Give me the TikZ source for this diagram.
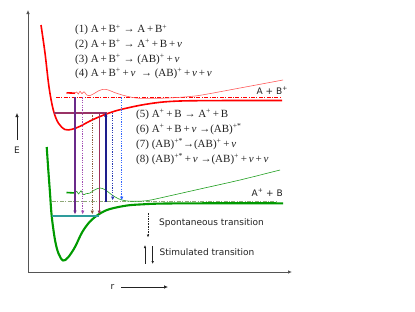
\documentclass[tikz,border=0pt]{standalone}
\usepackage{fontspec}
\setmainfont{Liberation Serif}
\setsansfont{DejaVu Sans}
\usepackage{tikz}
\usetikzlibrary{arrows.meta}
\definecolor{AxisGray}{HTML}{555555}
\definecolor{Ink}{HTML}{222222}
\definecolor{PotRed}{HTML}{FF0000}
\definecolor{WaveRed}{HTML}{FF5A5A}
\definecolor{PotGreen}{HTML}{009A00}
\definecolor{WaveGreen}{HTML}{1E9E1E}
\definecolor{AsymGreen}{HTML}{8FA878}
\definecolor{LevelMaroon}{HTML}{993366}
\definecolor{LevelTeal}{HTML}{2E9C9C}
\definecolor{TrViolet}{HTML}{6A2A8A}
\definecolor{TrOrchid}{HTML}{A24DB4}
\definecolor{TrBrown}{HTML}{8B5A3C}
\definecolor{TrMaroon}{HTML}{A0305A}
\definecolor{TrNavy}{HTML}{1E1E8C}
\definecolor{TrBlue}{HTML}{2A3AB4}
\definecolor{TrSky}{HTML}{3366FF}
\tikzset{
  >={Latex[length=4pt,width=3.6pt]},
  axis/.style={->,line width=.9pt,draw=AxisGray},
  pot/.style={line width=1.6pt},
  wave/.style={line width=.6pt},
  stub/.style={line width=1.6pt},
  asym/.style={line width=.8pt,dash pattern=on 4pt off 1.4pt on 1pt off 1.4pt},
  level/.style={line width=1.6pt},
  solidtr/.style={->,line width=1.6pt},
  dottr/.style={->,line width=1.5pt,dash pattern=on 1.2pt off 1.2pt},
  legarrow/.style={->,line width=.6pt,draw=Ink,>={Latex[length=3pt,width=2.6pt]}},
  eq/.style={anchor=west,inner sep=0pt,text=Ink,font=\fontsize{11}{13}\selectfont},
  lab/.style={inner sep=0pt,text=Ink,font=\sffamily\fontsize{9}{11}\selectfont}
}
\begin{document}
\begin{tikzpicture}[x=1pt,y=-1pt]
  \useasboundingbox (0,0) rectangle (415,311);
  % axes
  \coordinate (o) at (28,272); \coordinate (etop) at (28,10); \coordinate (rend) at (292,272);
  \draw[axis] (o)--(etop); \draw[axis] (o)--(rend);
  \node[lab] (elab) at (17,150) {E}; \coordinate (ea) at (17,140); \coordinate (eb) at (17,113);
  \draw[axis,line width=.7pt,draw=Ink] (ea)--(eb);
  \node[lab] (rlab) at (112.5,286.5) {r}; \coordinate (ra) at (121,287); \coordinate (rb) at (168,287);
  \draw[axis,line width=.7pt,draw=Ink] (ra)--(rb);
  % potential curves
  \draw[pot,draw=PotRed] plot[smooth,tension=.55] coordinates {(41,25) (45,53) (49,87) (53.3,110) (58.3,123) (65,129.5) (72,129.3) (80,126.3) (90,121) (100,116.5) (110,112.7) (120,109.7) (140,105.3) (160,102.3) (180,101) (210,100.6) (250,100.5) (282,100.5)};
  \draw[pot,draw=PotGreen,line width=2.1pt] plot[smooth,tension=.55] coordinates {(46.7,147) (48.3,170) (50,193) (51.7,216) (55,240) (58.5,253.5) (63,260.5) (68,257.5) (75,247) (82,232.5) (90,221.5) (100,213.5) (110,209) (127,205.5) (143,204.3) (160,203.6) (200,203.3) (283,203.3)};
  % asymptotes
  \draw[asym,draw=PotRed] (56,97.3)--(282,97.3);
  \draw[asym,draw=AsymGreen] (52,201.5)--(276,201.5);
  % wave packets
  \draw[stub,draw=PotRed] (66.5,92.8)--(75,93.2);
  \draw[wave,draw=WaveRed] plot[smooth,tension=.5] coordinates {(75,93.2) (76.7,92) (78.3,94) (80,91.3) (82,93.7) (84,91.7) (86.7,95) (89.3,95.7) (93.3,94) (98.3,91) (103.3,89.3) (108.3,90) (115,92.7) (123.3,95.3) (131.7,97.3) (140,98.3) (160,98.3) (180,97.3) (200,95.3) (240,88) (283,80)};
  \draw[stub,draw=PotGreen] (66.5,192.5)--(75,193);
  \draw[wave,draw=WaveGreen] plot[smooth,tension=.5] coordinates {(75,193) (76.7,191.3) (78.7,194) (81,190.7) (83.3,194.7) (86,193.7) (90,193) (95,189.7) (100,188) (105,189.7) (111.7,194.7) (118.3,198.7) (125,200.7) (133.3,201.3) (146.7,200.7) (160,198) (200,189) (240,180) (280,170)};
  % vibrational levels
  \draw[level,draw=LevelMaroon] (54.4,113)--(107,113);
  \draw[level,draw=LevelTeal] (51.7,216)--(99,216);
  % transitions
  \coordinate (t1a) at (75,97.3);    \coordinate (t1b) at (75,214.5);
  \coordinate (t2a) at (82.7,97.3);  \coordinate (t2b) at (82.7,214.5);
  \coordinate (t3a) at (92.3,113);   \coordinate (t3b) at (92.3,214.5);
  \coordinate (t4a) at (99.3,113);   \coordinate (t4b) at (99.3,214.5);
  \coordinate (t5a) at (105.7,201.5);\coordinate (t5b) at (105.7,112.5);
  \coordinate (t6a) at (112.7,113);  \coordinate (t6b) at (112.7,200.5);
  \coordinate (t7a) at (121.7,97.3); \coordinate (t7b) at (121.7,200.5);
  \draw[solidtr,draw=TrViolet] (t1a)--(t1b);
  \draw[dottr,draw=TrOrchid] (t2a)--(t2b);
  \draw[dottr,draw=TrBrown] (t3a)--(t3b);
  \draw[solidtr,draw=TrMaroon] (t4a)--(t4b);
  \draw[solidtr,draw=TrNavy] (t5a)--(t5b);
  \draw[dottr,draw=TrBlue] (t6a)--(t6b);
  \draw[dottr,draw=TrSky] (t7a)--(t7b);
  % reactions
  \node[eq] (eq1) at (75,30)   {(1) A\,+\,B\textsuperscript{+} → A\,+\,B\textsuperscript{+}};
  \node[eq] (eq2) at (75,44.6) {(2) A\,+\,B\textsuperscript{+} → A\textsuperscript{+}\,+\,B\,+\,\textit{ν}};
  \node[eq] (eq3) at (75,59.2) {(3) A\,+\,B\textsuperscript{+} → (AB)\textsuperscript{+}\,+\,\textit{ν}};
  \node[eq] (eq4) at (75,73.6) {(4) A\,+\,B\textsuperscript{+}\,+\,\textit{ν}~ → (AB)\textsuperscript{+}\,+\,\textit{ν}\,+\,\textit{ν}};
  \node[eq] (eq5) at (136,114.6) {(5) A\textsuperscript{+}\,+\,B → A\textsuperscript{+}\,+\,B};
  \node[eq] (eq6) at (136,129.6) {(6) A\textsuperscript{+}\,+\,B\,+\,\textit{ν} →(AB)\textsuperscript{+*}};
  \node[eq] (eq7) at (136,144.6) {(7) (AB)\textsuperscript{+*}→(AB)\textsuperscript{+}\,+\,\textit{ν}};
  \node[eq] (eq8) at (136,159.6) {(8) (AB)\textsuperscript{+*}\,+\,\textit{ν} →(AB)\textsuperscript{+}\,+\,\textit{ν}\,+\,\textit{ν}};
  % asymptote labels
  \node[lab,anchor=east] (ab1) at (288,90.5) {A + B\textsuperscript{+}};
  \node[lab,anchor=east] (ab2) at (283,193) {A\textsuperscript{+} + B};
  % legend
  \coordinate (sp1) at (148,213); \coordinate (sp2) at (148,237.5);
  \draw[legarrow,dash pattern=on 1.6pt off 1pt] (sp1)--(sp2);
  \node[lab,anchor=west] (spont) at (159,223) {Spontaneous transition};
  \coordinate (su1) at (145,263.5); \coordinate (su2) at (145,245);
  \coordinate (sd1) at (152.7,246); \coordinate (sd2) at (152.7,264);
  \draw[legarrow] (su1)--(su2); \draw[legarrow] (sd1)--(sd2);
  \node[lab,anchor=west] (stim) at (159.5,252.5) {Stimulated transition};
\end{tikzpicture}
\end{document}
